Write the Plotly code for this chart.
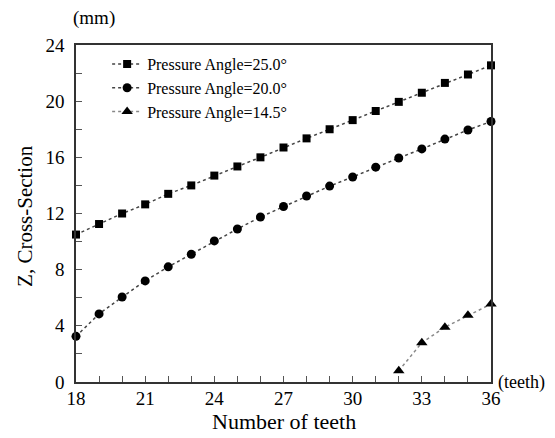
import plotly.graph_objects as go

teeth = list(range(18, 37))
angle_25 = [10.5, 11.25, 12.0, 12.65, 13.4, 14.0, 14.7, 15.35, 16.0, 16.7,
            17.35, 18.0, 18.65, 19.3, 19.95, 20.6, 21.3, 21.9, 22.55]
angle_20 = [3.25, 4.85, 6.05, 7.2, 8.2, 9.1, 10.05, 10.9, 11.75, 12.5,
            13.25, 13.95, 14.6, 15.3, 15.95, 16.6, 17.3, 17.95, 18.55]
teeth_145 = [32, 33, 34, 35, 36]
angle_145 = [0.8, 2.8, 3.9, 4.75, 5.55]

names = ["Pressure Angle=25.0°", "Pressure Angle=20.0°", "Pressure Angle=14.5°"]
x_ticks = [18, 21, 24, 27, 30, 33, 36]
y_ticks = [0, 4, 8, 12, 16, 20, 24]

SERIF = "Liberation Serif, Times New Roman, serif"

fig = go.Figure()
fig.add_trace(go.Scatter(x=teeth, y=angle_25, name=names[0], mode="lines+markers",
                         line=dict(color="#444444", dash="dot", width=1.5),
                         marker=dict(symbol="square", size=8, color="black"),
                         cliponaxis=False))
fig.add_trace(go.Scatter(x=teeth, y=angle_20, name=names[1], mode="lines+markers",
                         line=dict(color="#444444", dash="dot", width=1.5),
                         marker=dict(symbol="circle", size=9, color="black"),
                         cliponaxis=False))
fig.add_trace(go.Scatter(x=teeth_145, y=angle_145, name=names[2], mode="lines+markers",
                         line=dict(color="#888888", dash="dot", width=1.5),
                         marker=dict(symbol="triangle-up", size=10, color="black"),
                         cliponaxis=False))

axis_common = dict(showline=True, linecolor="#333333", linewidth=1.5, mirror=True,
                   showgrid=False, zeroline=False, ticks="inside", ticklen=6,
                   tickcolor="#555555", tickwidth=1)

fig.update_xaxes(range=[18, 36], tickvals=x_ticks, ticklabelstandoff=-2,
                 tickfont=dict(family=SERIF, size=19, color="black"),
                 minor=dict(dtick=1, tick0=18, ticks="inside", ticklen=6, tickcolor="#555555"),
                 **axis_common)
fig.update_yaxes(range=[0, 24], tickvals=y_ticks, ticklabelstandoff=6,
                 tickfont=dict(family=SERIF, size=19, color="black"),
                 minor=dict(dtick=2, tick0=0, ticks="inside", ticklen=6, tickcolor="#555555"),
                 **axis_common)

# page body has an 8px margin, so the figure is drawn 8px smaller and offset
fig.update_layout(
    width=547, height=430,
    margin=dict(l=68, r=64, t=37, b=56),
    paper_bgcolor="white", plot_bgcolor="white",
    showlegend=True,
    legend=dict(x=0.075, y=0.994, xanchor="left", yanchor="top",
                bgcolor="rgba(0,0,0,0)", font=dict(family=SERIF, size=16, color="black"),
                itemwidth=30),
    annotations=[
        dict(text="Number of teeth", xref="paper", yref="paper", x=0.5, y=-0.118,
             xanchor="center", yanchor="middle", showarrow=False,
             font=dict(family=SERIF, size=22, color="black")),
        dict(text="Z, Cross-Section", xref="paper", yref="paper", x=-0.123, y=0.4926,
             xanchor="center", yanchor="middle", textangle=-90, showarrow=False,
             font=dict(family=SERIF, size=21, color="black")),
        dict(text="(mm)", xref="paper", yref="paper", x=-0.012, y=1.08,
             xanchor="left", yanchor="middle", showarrow=False,
             font=dict(family=SERIF, size=19, color="black")),
        dict(text="(teeth)", xref="paper", yref="paper", x=1.012, y=0.0,
             xanchor="left", yanchor="middle", showarrow=False,
             font=dict(family=SERIF, size=18, color="black")),
    ],
)

fig.write_html("out.html")
